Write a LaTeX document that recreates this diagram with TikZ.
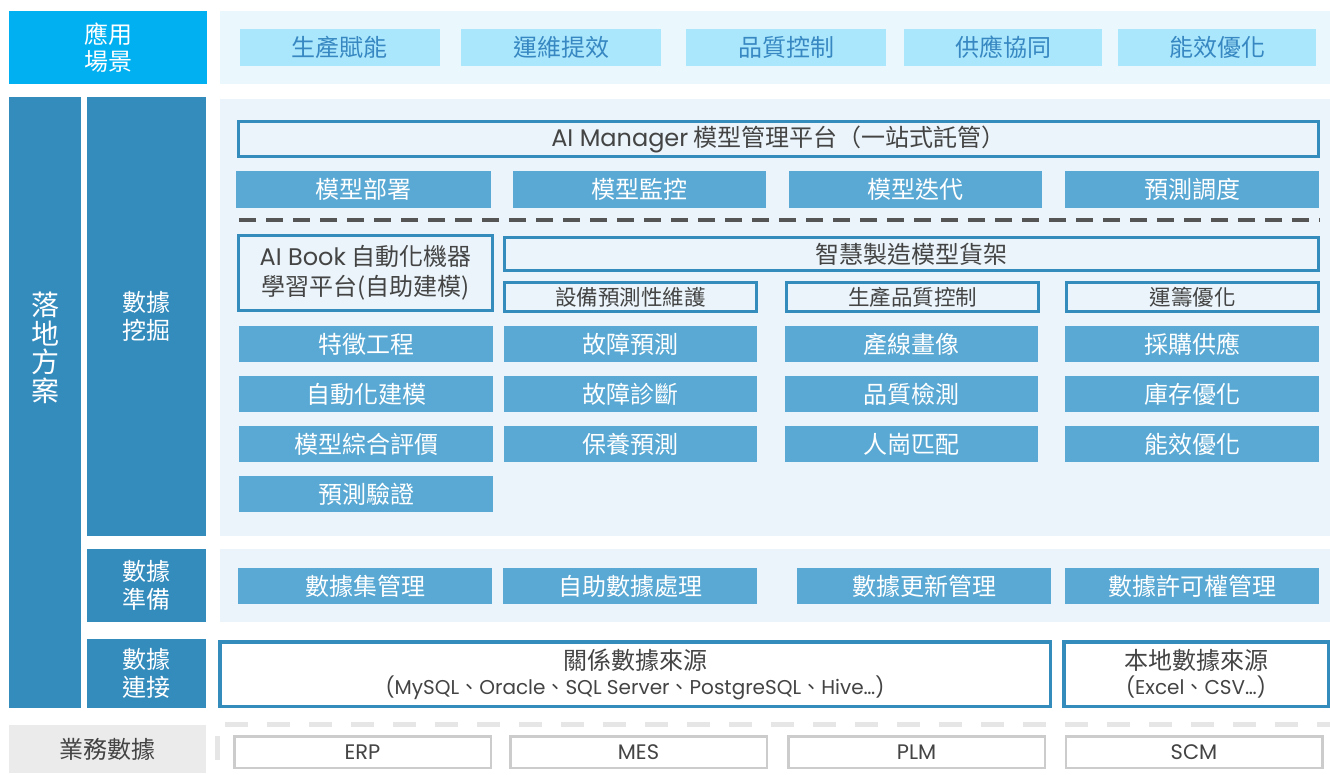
\documentclass[tikz,border=0pt]{standalone}
\usepackage{fontspec}
\setmainfont{Noto Sans CJK TC}
\newfontfamily\lat{Poppins}
\usetikzlibrary{positioning}

\definecolor{sky}{HTML}{00B0F0}
\definecolor{skylt}{HTML}{ABE7FC}
\definecolor{skytx}{HTML}{3788C2}
\definecolor{topbg}{HTML}{EAF8FE}
\definecolor{deep}{HTML}{348CBD}
\definecolor{mid}{HTML}{59A9D4}
\definecolor{pale}{HTML}{EAF4FA}
\definecolor{ink}{HTML}{444444}
\definecolor{rulegray}{HTML}{555555}
\definecolor{bizgray}{HTML}{EBEBEB}
\definecolor{sysgray}{HTML}{CCCCCC}
\definecolor{lightrule}{HTML}{E6E6E6}

\begin{document}
\begin{tikzpicture}[x=1pt, y=-1pt, node distance=14pt,
every node/.style={inner sep=0pt, outer sep=0pt, align=center},
big/.style={font=\fontsize{24}{28}\selectfont},
small/.style={font=\fontsize{21.5}{25}\selectfont},
layer/.style={big, fill=deep, text=white, minimum width=119pt},
goal/.style={big, fill=skylt, text=skytx, minimum width=200pt, minimum height=37pt},
task/.style={big, fill=mid, text=white, minimum width=254pt, minimum height=36pt},
frame/.style={big, draw=deep, line width=3pt, fill=pale, text=ink},
source/.style={big, draw=deep, line width=3.5pt, fill=white, text=ink, minimum height=64.5pt},
system/.style={draw=sysgray, line width=2.5pt, fill=white, text=ink, minimum width=256.5pt,
  minimum height=31.5pt, font=\fontsize{21}{24}\selectfont\lat}]

\useasboundingbox (0,0) rectangle (1330,774);

% application scenes
\node[big, fill=sky, text=white, minimum width=198pt, minimum height=73pt, font=\fontsize{24}{27}\selectfont] (scene) at (108,47.5) {應用\\場景};
\node[fill=topbg, minimum width=1110pt, minimum height=73pt] (scenepanel) at (775,47.5) {};
\node[goal] (g1) at (339.5,47.5) {生產賦能};
\node[goal] (g2) at (561,47.5) {運維提效};
\node[goal] (g3) at (786,47.5) {品質控制};
\node[goal, minimum width=198pt] (g4) at (1003,47.5) {供應協同};
\node[goal, minimum width=198pt] (g5) at (1217,47.5) {能效優化};

% left side
\node[layer, minimum width=72pt, minimum height=611pt] (land) at (45,402.5) {};
\node[text=white, font=\fontsize{28}{28.5}\selectfont] (landtxt) at (45,348) {落\\地\\方\\案};
\node[layer, minimum height=439pt] (mine) at (146.5,316.5) {數據\\挖掘};
\node[layer, minimum height=73pt] (prep) at (146.5,585.5) {數據\\準備};
\node[layer, minimum height=69pt] (conn) at (146.5,673.5) {數據\\連接};
\node[big, fill=bizgray, text=ink, minimum width=197pt, minimum height=48pt] (biz) at (107.5,749) {業務數據};

% data mining panel
\node[fill=pale, minimum width=1110pt, minimum height=437pt] (minepanel) at (775,317.5) {};
\node[frame, minimum width=1080pt, minimum height=35pt] (mgr) at (778.5,139)
  {{\lat AI Manager} 模型管理平台（一站式託管）};
\node[task, minimum width=255pt, minimum height=37pt] (deploy) at (363.5,189.5) {模型部署};
\node[task, minimum width=253pt, minimum height=37pt] (monitor) at (639.5,189.5) {模型監控};
\node[task, minimum width=253pt, minimum height=37pt] (iterate) at (915.5,189.5) {模型迭代};
\node[task, minimum height=37pt] (sched) at (1192,189.5) {預測調度};

\coordinate (dashL) at (239,220);
\coordinate (dashR) at (1320,220);
\draw[rulegray, line width=4pt, dash pattern=on 17pt off 10pt] (dashL) -- (dashR);

\node[frame, minimum width=254pt, minimum height=75pt, font=\fontsize{24}{30}\selectfont] (book) at (365.5,273)
  {{\lat AI Book} 自動化機器\\學習平台(自助建模)};
\node[frame, minimum width=814pt, minimum height=33pt] (shelf) at (911.5,254) {智慧製造模型貨架};
\node[frame, small, minimum width=252pt, minimum height=29pt] (pdm) at (630.5,297) {設備預測性維護};
\node[frame, small, minimum width=252pt, minimum height=29pt] (qc) at (912.5,297) {生產品質控制};
\node[frame, small, minimum width=252pt, minimum height=29pt] (ops) at (1192.5,297) {運籌優化};

\node[task] (eng) at (366,344) {特徵工程};
\node[task] (auto) [below=of eng] {自動化建模};
\node[task] (eval) [below=of auto] {模型綜合評價};
\node[task] (verify) [below=of eval] {預測驗證};

\node[task, minimum width=253pt] (fault) at (630.5,344) {故障預測};
\node[task, minimum width=253pt] (diag) [below=of fault] {故障診斷};
\node[task, minimum width=253pt] (maint) [below=of diag] {保養預測};

\node[task, minimum width=253pt] (portrait) at (911.5,344) {產線畫像};
\node[task, minimum width=253pt] (inspect) [below=of portrait] {品質檢測};
\node[task, minimum width=253pt] (match) [below=of inspect] {人崗匹配};

\node[task] (buy) at (1192,344) {採購供應};
\node[task] (stock) [below=of buy] {庫存優化};
\node[task] (energy) [below=of stock] {能效優化};

% data preparation
\node[fill=pale, minimum width=1110pt, minimum height=73pt] (preppanel) at (775,585.5) {};
\node[task] (dataset) at (365,586) {數據集管理};
\node[task] (selfproc) at (630,586) {自助數據處理};
\node[task] (update) at (924,586) {數據更新管理};
\node[task] (perm) at (1192,586) {數據許可權管理};

% data connection
\node[source, minimum width=830.5pt] (rel) at (635,674)
  {關係數據來源\\[-3pt]{\fontsize{20}{23}\selectfont{\lat (MySQL}、{\lat Oracle}、{\lat SQL Server}、{\lat PostgreSQL}、{\lat Hive…)}}};
\node[source, minimum width=264.5pt] (loc) at (1196,674)
  {本地數據來源\\[-3pt]{\fontsize{20}{23}\selectfont{\lat (Excel}、{\lat CSV…)}}};

% business data
\coordinate (bizL) at (225,724);
\coordinate (bizR) at (1330,724);
\draw[lightrule, line width=5pt, dash pattern=on 23pt off 19pt] (bizL) -- (bizR);
\fill[lightrule] (215,736) rectangle (220,760);
\node[system] (erp) at (362.5,752) {ERP};
\node[system] (mes) at (638.5,752) {MES};
\node[system] (plm) at (916.5,752) {PLM};
\node[system] (scm) at (1194,752) {SCM};
\end{tikzpicture}
\end{document}
